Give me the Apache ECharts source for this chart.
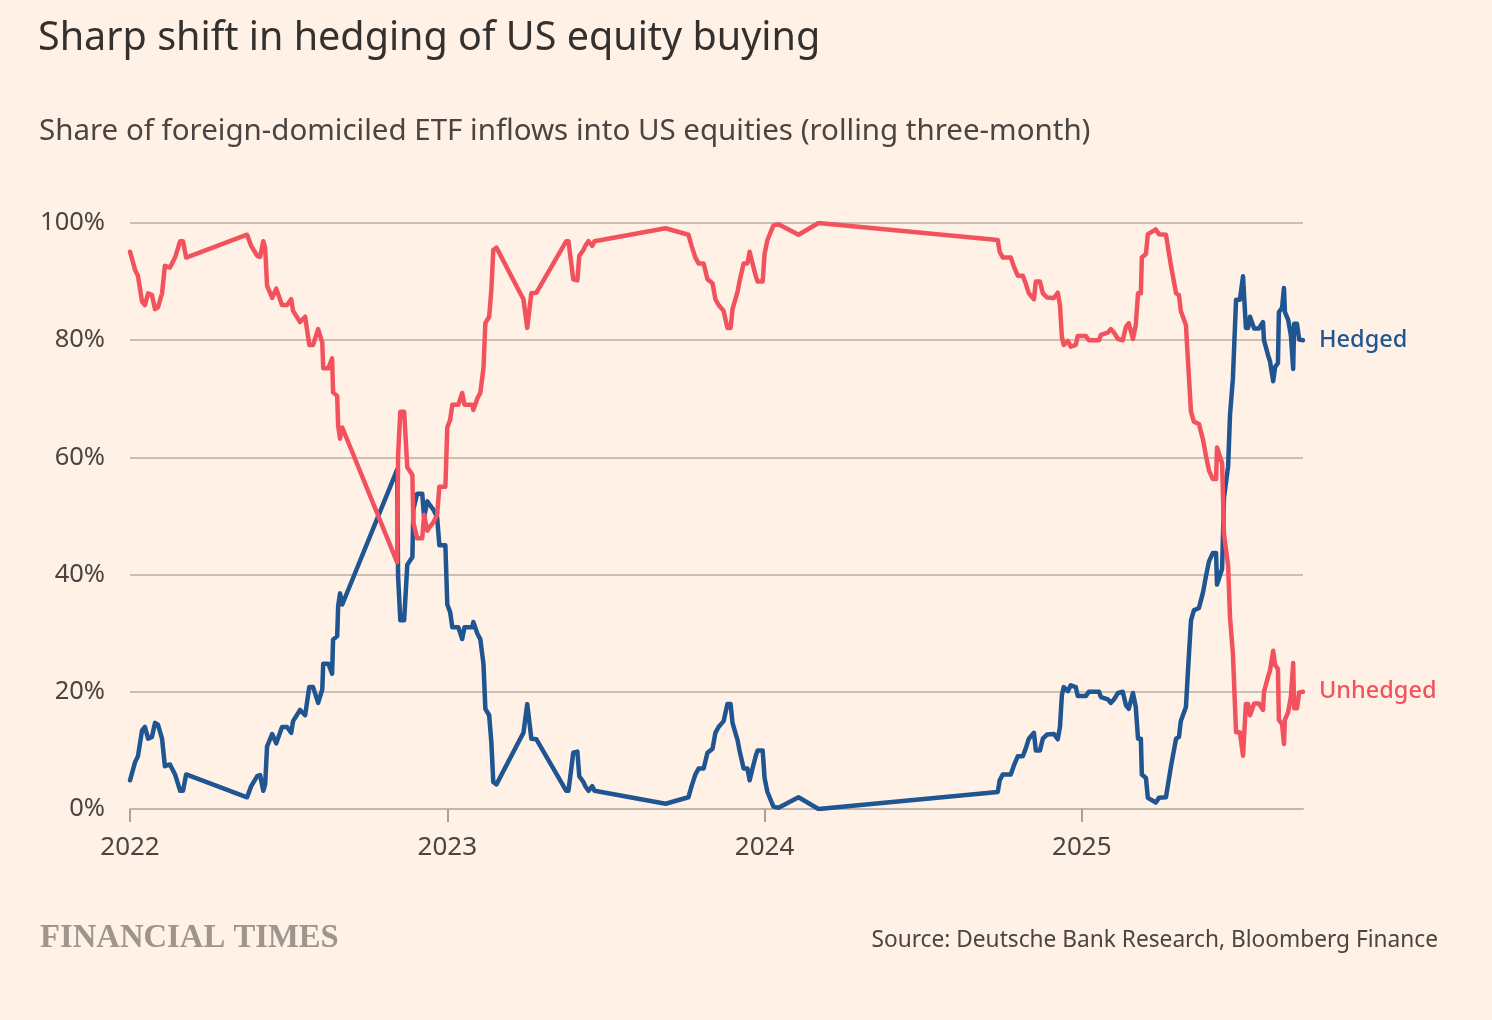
<!DOCTYPE html>
<html lang="en">
<head>
    <meta charset="UTF-8">
    <title>Sharp shift in hedging of US equity buying</title>
    <style>
        html, body { margin: 0; padding: 0; background: #fff1e5; }
    </style>
</head>
<body>
<div id="main" style="width:1492px;height:1020px;"></div>
<script src="https://cdn.jsdelivr.net/npm/echarts@6.0.0/dist/echarts.min.js"></script>
<script>
    // dates as decimal years (2022.5 = roughly start of July 2022)
    var dates = [
        2022.000, 2022.016, 2022.025, 2022.038, 2022.047, 2022.057, 2022.069, 2022.079, 2022.088, 2022.101,
        2022.110, 2022.126, 2022.142, 2022.158, 2022.167, 2022.177, 2022.369, 2022.382, 2022.401, 2022.410,
        2022.420, 2022.426, 2022.432, 2022.448, 2022.461, 2022.479, 2022.495, 2022.508, 2022.514, 2022.536,
        2022.552, 2022.565, 2022.577, 2022.593, 2022.606, 2022.609, 2022.625, 2022.637, 2022.640, 2022.653,
        2022.656, 2022.662, 2022.669, 2022.842, 2022.845, 2022.852, 2022.864, 2022.874, 2022.890, 2022.893,
        2022.905, 2022.921, 2022.927, 2022.937, 2022.946, 2022.956, 2022.968, 2022.975, 2022.994, 2023.000,
        2023.009, 2023.016, 2023.035, 2023.047, 2023.054, 2023.079, 2023.082, 2023.095, 2023.104, 2023.114,
        2023.120, 2023.132, 2023.139, 2023.145, 2023.155, 2023.230, 2023.240, 2023.252, 2023.259, 2023.265,
        2023.281, 2023.375, 2023.382, 2023.397, 2023.410, 2023.416, 2023.429, 2023.435, 2023.445, 2023.457,
        2023.464, 2023.688, 2023.760, 2023.770, 2023.782, 2023.792, 2023.808, 2023.820, 2023.836, 2023.845,
        2023.855, 2023.871, 2023.883, 2023.893, 2023.899, 2023.915, 2023.921, 2023.934, 2023.946, 2023.953,
        2023.962, 2023.972, 2023.978, 2023.994, 2024.000, 2024.009, 2024.028, 2024.044, 2024.107, 2024.170,
        2024.735, 2024.741, 2024.751, 2024.776, 2024.785, 2024.798, 2024.814, 2024.823, 2024.833, 2024.849,
        2024.855, 2024.868, 2024.877, 2024.890, 2024.912, 2024.924, 2024.931, 2024.937, 2024.943, 2024.956,
        2024.965, 2024.981, 2024.987, 2025.013, 2025.022, 2025.054, 2025.060, 2025.082, 2025.091, 2025.101,
        2025.114, 2025.129, 2025.139, 2025.148, 2025.161, 2025.170, 2025.177, 2025.186, 2025.189, 2025.202,
        2025.208, 2025.233, 2025.243, 2025.265, 2025.281, 2025.297, 2025.306, 2025.312, 2025.328, 2025.334,
        2025.338, 2025.344, 2025.353, 2025.369, 2025.382, 2025.391, 2025.401, 2025.413, 2025.423, 2025.426,
        2025.432, 2025.442, 2025.448, 2025.461, 2025.467, 2025.476, 2025.486, 2025.498, 2025.508, 2025.514,
        2025.517, 2025.524, 2025.530, 2025.543, 2025.558, 2025.571, 2025.574, 2025.587, 2025.593, 2025.603,
        2025.609, 2025.618, 2025.621, 2025.631, 2025.637, 2025.640, 2025.650, 2025.659, 2025.666, 2025.669,
        2025.678, 2025.685, 2025.697
    ];

    var hedged = [
        4.9, 8.0, 9.0, 13.4, 14.0, 12.0, 12.3, 14.7, 14.4, 12.0,
        7.3, 7.6, 5.9, 3.1, 3.1, 5.9, 2.0, 3.9, 5.6, 5.8,
        3.1, 4.2, 10.7, 12.8, 11.2, 14.0, 14.0, 13.0, 15.0, 16.9,
        16.0, 20.8, 20.8, 18.1, 20.4, 24.8, 24.8, 23.1, 28.9, 29.5,
        34.6, 36.8, 34.9, 57.9, 39.6, 32.2, 32.2, 41.7, 43.0, 51.1,
        53.8, 53.8, 49.8, 52.5, 51.8, 51.1, 49.8, 45.0, 45.0, 34.9,
        33.6, 31.0, 31.0, 29.0, 31.0, 31.0, 31.9, 29.9, 29.0, 24.8,
        17.1, 16.0, 11.3, 4.6, 4.2, 12.0, 13.0, 17.9, 14.7, 12.0,
        11.9, 3.1, 3.1, 9.6, 9.8, 5.6, 4.6, 3.9, 3.1, 3.9,
        3.1, 0.9, 2.0, 3.9, 5.9, 6.9, 6.9, 9.6, 10.3, 13.0,
        14.0, 15.0, 17.9, 17.9, 14.7, 11.7, 10.0, 6.9, 6.9, 4.9,
        6.9, 9.0, 10.0, 10.0, 5.3, 2.9, 0.4, 0.2, 2.0, 0.0,
        2.9, 4.9, 5.9, 5.9, 7.3, 9.0, 9.0, 10.3, 12.0, 13.0,
        10.0, 10.0, 12.0, 12.7, 12.8, 11.9, 14.0, 19.4, 20.8, 20.1,
        21.1, 20.8, 19.3, 19.3, 20.0, 20.0, 19.1, 18.7, 18.1, 18.7,
        19.8, 20.0, 17.7, 17.1, 19.8, 17.4, 12.0, 12.0, 5.9, 5.3,
        1.9, 1.1, 1.9, 2.0, 7.3, 12.0, 12.3, 15.0, 17.4, 23.1,
        26.8, 32.2, 33.9, 34.3, 37.0, 39.7, 42.3, 43.7, 43.7, 38.3,
        38.3, 41.0, 53.1, 58.5, 67.3, 73.4, 86.9, 86.9, 90.9, 90.9,
        82.1, 82.1, 84.0, 82.0, 82.0, 83.1, 80.0, 77.4, 76.4, 73.0,
        75.4, 76.1, 84.8, 85.5, 88.9, 84.8, 83.5, 80.8, 75.1, 82.8,
        82.8, 80.1, 80.0
    ];

    var unhedged = [
        95.1, 92.0, 91.0, 86.6, 86.0, 88.0, 87.7, 85.3, 85.6, 88.0,
        92.7, 92.4, 94.1, 96.9, 96.9, 94.1, 98.0, 96.1, 94.4, 94.2,
        96.9, 95.8, 89.3, 87.2, 88.8, 86.0, 86.0, 87.0, 85.0, 83.1,
        84.0, 79.2, 79.2, 81.9, 79.6, 75.2, 75.2, 76.9, 71.1, 70.5,
        65.4, 63.2, 65.1, 42.1, 60.4, 67.8, 67.8, 58.3, 57.0, 48.9,
        46.2, 46.2, 50.2, 47.5, 48.2, 48.9, 50.2, 55.0, 55.0, 65.1,
        66.4, 69.0, 69.0, 71.0, 69.0, 69.0, 68.1, 70.1, 71.0, 75.2,
        82.9, 84.0, 88.7, 95.4, 95.8, 88.0, 87.0, 82.1, 85.3, 88.0,
        88.1, 96.9, 96.9, 90.4, 90.2, 94.4, 95.4, 96.1, 96.9, 96.1,
        96.9, 99.1, 98.0, 96.1, 94.1, 93.1, 93.1, 90.4, 89.7, 87.0,
        86.0, 85.0, 82.1, 82.1, 85.3, 88.3, 90.0, 93.1, 93.1, 95.1,
        93.1, 91.0, 90.0, 90.0, 94.7, 97.1, 99.6, 99.8, 98.0, 100.0,
        97.1, 95.1, 94.1, 94.1, 92.7, 91.0, 91.0, 89.7, 88.0, 87.0,
        90.0, 90.0, 88.0, 87.3, 87.2, 88.1, 86.0, 80.6, 79.2, 79.9,
        78.9, 79.2, 80.7, 80.7, 80.0, 80.0, 80.9, 81.3, 81.9, 81.3,
        80.2, 80.0, 82.3, 82.9, 80.2, 82.6, 88.0, 88.0, 94.1, 94.7,
        98.1, 98.9, 98.1, 98.0, 92.7, 88.0, 87.7, 85.0, 82.6, 76.9,
        73.2, 67.8, 66.1, 65.7, 63.0, 60.3, 57.7, 56.3, 56.3, 61.7,
        61.7, 59.0, 46.9, 41.5, 32.7, 26.6, 13.1, 13.1, 9.1, 9.1,
        17.9, 17.9, 16.0, 18.0, 18.0, 16.9, 20.0, 22.6, 23.6, 27.0,
        24.6, 23.9, 15.2, 14.5, 11.1, 15.2, 16.5, 19.2, 24.9, 17.2,
        17.2, 19.9, 20.0
    ];

    var yearTicks = [2022, 2023, 2024, 2025];
    var yTicks = [0, 20, 40, 60, 80, 100];

    var textColor = '#33302e';
    var blue = '#1f5591';
    var red = '#f2525d';

    function pairs(ys) {
        return dates.map(function (d, i) { return [d, ys[i]]; });
    }

    var myChart = echarts.init(document.getElementById('main'));

    var option = {
        backgroundColor: '#fff1e5',
        animation: false,
        textStyle: { fontFamily: 'Noto Sans' },
        title: [
            {
                text: 'Sharp shift in hedging of US equity buying',
                left: 33, top: 14,
                textStyle: { fontSize: 39.5, fontWeight: 'normal', color: textColor, fontFamily: 'Noto Sans' }
            },
            {
                text: 'Share of foreign-domiciled ETF inflows into US equities (rolling three-month)',
                left: 34, top: 112,
                textStyle: { fontSize: 29.5, fontWeight: 'normal', color: '#4a4542', fontFamily: 'Noto Sans' }
            },
            {
                text: 'FINANCIAL TIMES',
                left: 35, top: 917,
                textStyle: { fontSize: 32.7, fontWeight: 'bold', color: '#9e958d', fontFamily: 'Liberation Serif' }
            },
            {
                text: 'Source: Deutsche Bank Research, Bloomberg Finance',
                right: 49, top: 924,
                textStyle: { fontSize: 22.7, fontWeight: 'normal', color: '#4a4542', fontFamily: 'Noto Sans' }
            }
        ],
        grid: { left: 130, right: 189, top: 223, bottom: 211 },
        xAxis: {
            type: 'value',
            min: 2022,
            max: 2025.697,
            interval: 1,
            splitLine: { show: false },
            axisLine: { lineStyle: { color: '#c1b7ad', width: 2 } },
            axisTick: { customValues: yearTicks, length: 13, lineStyle: { color: '#a8a09a', width: 2 } },
            axisLabel: {
                customValues: yearTicks,
                margin: 26,
                fontSize: 26,
                color: '#4a4542',
                formatter: function (v) { return String(Math.round(v)); }
            }
        },
        yAxis: {
            type: 'value',
            min: 0,
            max: 100,
            interval: 20,
            axisLine: { show: false },
            axisTick: { show: false },
            splitLine: { lineStyle: { color: '#cbbfb4', width: 2 } },
            axisLabel: {
                customValues: yTicks,
                margin: 25,
                fontSize: 25.5,
                color: '#4a4542',
                formatter: '{value}%'
            }
        },
        series: [
            {
                name: 'Hedged',
                type: 'line',
                data: pairs(hedged),
                showSymbol: false,
                symbol: 'none',
                lineStyle: { color: blue, width: 4.5, join: 'round', cap: 'round' },
                itemStyle: { color: blue },
                endLabel: {
                    show: true,
                    formatter: 'Hedged',
                    distance: 16,
                    fontSize: 23.5,
                    fontWeight: 500,
                    color: blue
                },
                z: 2
            },
            {
                name: 'Unhedged',
                type: 'line',
                data: pairs(unhedged),
                showSymbol: false,
                symbol: 'none',
                lineStyle: { color: red, width: 4.5, join: 'round', cap: 'round' },
                itemStyle: { color: red },
                endLabel: {
                    show: true,
                    formatter: 'Unhedged',
                    distance: 16,
                    fontSize: 23.5,
                    fontWeight: 500,
                    color: red
                },
                z: 3
            }
        ]
    };

    myChart.setOption(option);
</script>
</body>
</html>
